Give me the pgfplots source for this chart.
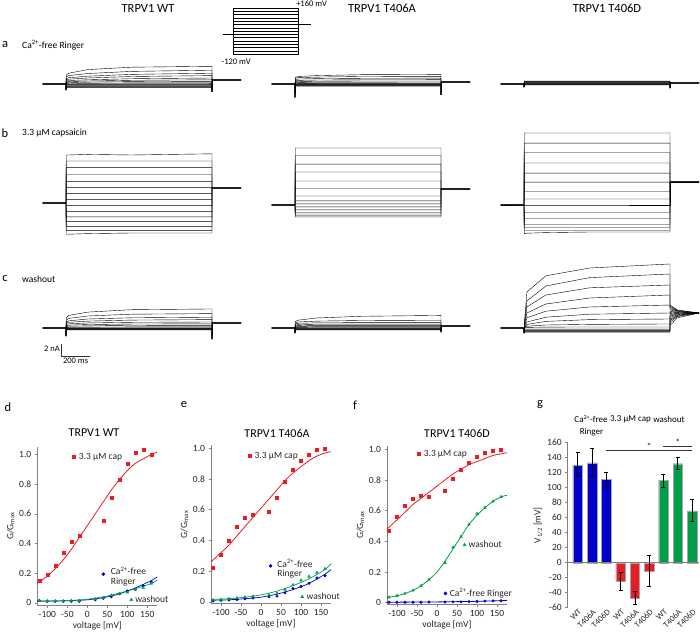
\documentclass[border=0pt]{standalone}
\usepackage{fontspec}
\setmainfont{Carlito}
\usepackage{pgfplots}
\pgfplotsset{compat=1.18}
\definecolor{cred}{RGB}{236,28,36}
\definecolor{cblue}{RGB}{0,0,205}
\definecolor{cgreen}{RGB}{0,158,72}
\definecolor{axgray}{RGB}{128,128,128}
\tikzset{lt/.style={font=\fontsize{9.5}{10}\selectfont, text=black!85, anchor=west, inner sep=1pt}}
\pgfplotsset{
  tr/.style={black, line width=0.4pt, line join=round},
  trax/.style={hide axis, x=0.146pt, y=6pt, xmin=-160, xmax=1200, ymin=-8, ymax=14, clip=false, anchor=south west},
  gax/.style={scale only axis, anchor=south west, height=158pt, width=120pt, axis lines=left,
    axis line style={-, axgray, line width=0.7pt}, tick style={axgray, line width=0.5pt},
    tick align=outside, major tick length=2.5pt,
    ticklabel style={font=\fontsize{9.5}{10}\selectfont, text=black!85},
    label style={font=\fontsize{9.5}{10}\selectfont, text=black!85},
    /pgf/number format/assume math mode=true,
    ytick={0,0.2,0.4,0.6,0.8,1}, yticklabels={0,0.2,0.4,0.6,0.8,1.0},
    xtick={-100,-50,0,50,100,150},
    xlabel={voltage [mV]}, ylabel={G/G\textsubscript{max}},
    xlabel style={yshift=3pt}, ylabel style={yshift=-2pt},
    clip=false, xmin=-125, xmax=175, ymin=-0.015},
}
% family of current traces: #1 start spike, #2 end spike, #3 tail level, #4 list S/A/B/C/E/T/M
\newcommand\trfam[4]{\foreach \qS/\qA/\qB/\qC/\qE/\qT/\qM in {#4}{\addplot[tr] coordinates {(-160,0) (0,0) (0,#1) (2,\qS) (20,\qA) (150,\qB) (450,\qC) (1000,\qE) (1000,#2) (1003,\qT) (1050,\qM) (1200,#3)};}}
\newcommand\txt[1]{\fontsize{#1}{#1}\selectfont}
\begin{document}
\begin{tikzpicture}
\useasboundingbox (0,0) rectangle (700pt,-631pt);
% ---------- titles and row labels
\node[font=\txt{12.5}] at (148pt,-8pt) {TRPV1 WT};
\node[font=\txt{12.5}] at (382pt,-8pt) {TRPV1 T406A};
\node[font=\txt{12.5}] at (607pt,-8pt) {TRPV1 T406D};
\node[font=\txt{12.5}] at (5pt,-45pt) {a};
\node[font=\txt{9.5},anchor=west,inner sep=0pt] at (22pt,-45pt) {Ca\textsuperscript{2+}-free Ringer};
\node[font=\txt{12.5}] at (5pt,-133pt) {b};
\node[font=\txt{9.5},anchor=west,inner sep=0pt] at (22pt,-133pt) {3.3 µM capsaicin};
\node[font=\txt{12.5}] at (5pt,-279pt) {c};
\node[font=\txt{9.5},anchor=west,inner sep=0pt] at (22pt,-279pt) {washout};
% ---------- voltage protocol
\begin{axis}[hide axis, x=0.065pt, y=0.164pt, xmin=-154, xmax=1200, ymin=-120, ymax=160, clip=false, anchor=south west, at={(223pt,-54pt)}]
\foreach \V in {-120,-100,-80,-60,-40,-20,0,20,40,60,80,100,120,140,160}{\addplot[tr, line width=0.35pt] coordinates {(-154,0) (0,0) (0,\V) (1000,\V) (1000,60) (1200,60)};}
\node[font=\txt{8.5},anchor=base west,inner sep=0pt] at (axis cs:970,168) {+160 mV};
\node[font=\txt{8.5},anchor=north,inner sep=0pt] at (axis cs:50,-148) {-120 mV};
\end{axis}
% ---------- row a
\begin{axis}[trax, at={(42.6pt,-132pt)}]
\trfam{-1.0}{-1.3}{0.67}{-0.6/-0.6/-0.6/-0.6/-0.6/0.67/0.67, -0.5/-0.5/-0.5/-0.5/-0.5/0.67/0.67, -0.4/-0.4/-0.4/-0.4/-0.4/0.67/0.67, -0.3/-0.3/-0.3/-0.3/-0.3/0.67/0.67, -0.2/-0.2/-0.2/-0.2/-0.2/0.67/0.67, -0.1/-0.1/-0.1/-0.1/-0.1/0.67/0.67, 0/0/0.02/0.04/0.05/0.67/0.67, 0.1/0.12/0.15/0.18/0.2/0.67/0.67, 0.2/0.25/0.32/0.4/0.45/0.67/0.67, 0.35/0.4/0.5/0.62/0.7/0.67/0.67, 0.5/0.58/0.7/0.88/1.0/0.67/0.67, 0.7/0.8/1.0/1.25/1.4/0.67/0.67, 0.9/1.05/1.3/1.6/1.8/0.67/0.67, 1.2/1.4/1.75/2.1/2.3/0.67/0.67, 1.5/1.8/2.4/2.8/2.95/0.67/0.67}
\end{axis}
\begin{axis}[trax, at={(271.6pt,-132pt)}]
\trfam{-2.2}{-1.8}{0.33}{-0.35/-0.35/-0.35/-0.35/-0.35/0.33/0.33, -0.3/-0.3/-0.3/-0.3/-0.3/0.33/0.33, -0.25/-0.25/-0.25/-0.25/-0.25/0.33/0.33, -0.2/-0.2/-0.2/-0.2/-0.2/0.33/0.33, -0.15/-0.15/-0.15/-0.15/-0.15/0.33/0.33, -0.1/-0.1/-0.1/-0.1/-0.1/0.33/0.33, -0.03/-0.03/-0.02/-0.02/-0.02/0.33/0.33, 0.04/0.05/0.06/0.06/0.06/0.33/0.33, 0.12/0.14/0.16/0.16/0.17/0.33/0.33, 0.25/0.27/0.3/0.32/0.33/0.33/0.33, 0.38/0.42/0.46/0.5/0.5/0.33/0.33, 0.55/0.6/0.66/0.7/0.72/0.33/0.33, 0.75/0.82/0.9/0.95/0.98/0.33/0.33, 0.95/1.05/1.15/1.25/1.28/0.33/0.33, 1.1/1.25/1.4/1.55/1.6/0.33/0.33}
\end{axis}
\begin{axis}[trax, at={(500.6pt,-132pt)}]
\trfam{-0.5}{-0.67}{0.17}{-0.17/-0.17/-0.17/-0.17/-0.17/0.17/0.17, -0.12/-0.12/-0.12/-0.12/-0.12/0.17/0.17, -0.07/-0.07/-0.07/-0.07/-0.07/0.17/0.17, -0.03/-0.03/-0.03/-0.03/-0.03/0.17/0.17, 0/0/0/0/0/0.17/0.17, 0.04/0.04/0.04/0.04/0.04/0.17/0.17, 0.08/0.08/0.08/0.08/0.08/0.17/0.17, 0.12/0.12/0.12/0.12/0.12/0.17/0.17, 0.16/0.16/0.16/0.16/0.16/0.17/0.17, 0.2/0.2/0.2/0.2/0.2/0.17/0.17, 0.25/0.25/0.25/0.25/0.25/0.17/0.17, 0.3/0.3/0.3/0.3/0.3/0.17/0.17, 0.36/0.36/0.36/0.36/0.36/0.17/0.17, 0.43/0.43/0.43/0.43/0.43/0.17/0.17, 0.5/0.5/0.5/0.5/0.5/0.17/0.17}
\end{axis}
% ---------- row b
\begin{axis}[trax, at={(42.6pt,-251pt)}]
\trfam{0}{2.5}{2.5}{-5.2/-5.2/-5.1/-5.0/-5.0/2.5/2.5, -4.6/-4.6/-4.6/-4.6/-4.6/2.5/2.5, -3.9/-3.9/-3.9/-3.9/-3.9/2.5/2.5, -3.1/-3.1/-3.1/-3.1/-3.1/2.5/2.5, -2.3/-2.3/-2.3/-2.3/-2.3/2.5/2.5, -1.4/-1.4/-1.4/-1.4/-1.4/2.5/2.5, -0.4/-0.4/-0.4/-0.4/-0.4/2.5/2.5, 0.6/0.6/0.6/0.6/0.6/2.5/2.5, 1.6/1.6/1.6/1.6/1.6/2.5/2.5, 2.6/2.6/2.6/2.6/2.6/2.5/2.5, 3.6/3.6/3.6/3.6/3.6/2.5/2.5, 4.7/4.7/4.7/4.7/4.7/2.5/2.5, 5.9/5.9/5.9/5.9/5.9/2.5/2.5, 7.0/7.0/7.0/7.0/7.0/2.5/2.5, 8.0/8.0/8.1/8.0/8.2/2.5/2.5}
\end{axis}
\begin{axis}[trax, at={(271.6pt,-253pt)}]
\trfam{0}{2.67}{2.67}{-2.0/-2.0/-2.0/-2.0/-2.0/2.67/2.67, -1.8/-1.8/-1.8/-1.8/-1.8/2.67/2.67, -1.5/-1.5/-1.5/-1.5/-1.5/2.67/2.67, -1.2/-1.2/-1.2/-1.2/-1.2/2.67/2.67, -0.8/-0.8/-0.8/-0.8/-0.8/2.67/2.67, -0.3/-0.3/-0.3/-0.3/-0.3/2.67/2.67, 0.2/0.2/0.2/0.2/0.2/2.67/2.67, 0.7/0.7/0.7/0.7/0.7/2.67/2.67, 1.5/1.5/1.5/1.5/1.5/2.67/2.67, 2.8/2.8/2.8/2.8/2.8/2.67/2.67, 4.0/4.0/4.0/4.0/4.0/2.67/2.67, 5.5/5.5/5.5/5.5/5.5/2.67/2.67, 6.8/6.8/6.8/6.8/6.8/2.67/2.67, 8.2/8.2/8.2/8.2/8.2/2.67/2.67, 9.5/9.5/9.5/9.5/9.5/2.67/2.67}
\end{axis}
\begin{axis}[trax, at={(500.6pt,-253pt)}]
\trfam{0}{3.83}{3.83}{-4.8/-4.7/-4.6/-4.5/-4.5/3.83/3.83, -4.2/-4.2/-4.2/-4.2/-4.2/3.83/3.83, -3.7/-3.7/-3.7/-3.7/-3.7/3.83/3.83, -3.2/-3.2/-3.2/-3.2/-3.2/3.83/3.83, -2.2/-2.2/-2.2/-2.2/-2.2/3.83/3.83, -1.2/-1.2/-1.2/-1.2/-1.2/3.83/3.83, 0/0/0/0/0/3.83/3.83, 1.0/1.0/1.0/1.0/1.0/3.83/3.83, 2.3/2.3/2.3/2.3/2.3/3.83/3.83, 3.8/3.8/3.8/3.8/3.8/3.83/3.83, 5.3/5.3/5.3/5.3/5.3/3.83/3.83, 7.0/7.0/7.0/7.0/7.0/3.83/3.83, 8.7/8.7/8.7/8.7/8.7/3.83/3.83, 10.3/10.3/10.3/10.3/10.3/3.83/3.83, 12.0/12.0/12.0/12.0/12.0/3.83/3.83}
\end{axis}
% ---------- row c
\begin{axis}[trax, at={(42.6pt,-376pt)}]
\trfam{-1.33}{-1.83}{0.83}{-0.33/-0.33/-0.33/-0.33/-0.33/0.83/0.83, -0.28/-0.28/-0.28/-0.28/-0.28/0.83/0.83, -0.22/-0.22/-0.22/-0.22/-0.22/0.83/0.83, -0.17/-0.17/-0.17/-0.17/-0.17/0.83/0.83, -0.1/-0.1/-0.1/-0.1/-0.1/0.83/0.83, -0.05/-0.05/-0.05/-0.05/-0.05/0.83/0.83, 0.02/0.02/0.02/0.02/0.02/0.83/0.83, 0.1/0.12/0.15/0.18/0.2/0.83/0.83, 0.25/0.3/0.36/0.42/0.45/0.83/0.83, 0.4/0.48/0.58/0.66/0.7/0.83/0.83, 0.6/0.7/0.85/0.95/1.0/0.83/0.83, 0.8/0.95/1.15/1.32/1.4/0.83/0.83, 1.0/1.2/1.5/1.7/1.8/0.83/0.83, 1.3/1.6/2.0/2.3/2.4/0.83/0.83, 1.67/2.1/2.65/3.05/3.17/0.83/0.83}
\draw[black!80, line width=0.5pt] (axis cs:-34,-2.67) -- (axis cs:-34,-4.67) -- (axis cs:166,-4.67);
\node[font=\txt{8.5},anchor=east,inner sep=1pt] at (axis cs:-34,-3.5) {2 nA};
\node[font=\txt{8.5},anchor=north,inner sep=1.5pt] at (axis cs:66,-4.67) {200 ms};
\end{axis}
\begin{axis}[trax, at={(271.6pt,-376pt)}]
\trfam{-0.83}{-0.67}{0.33}{-0.33/-0.33/-0.33/-0.33/-0.33/0.33/0.33, -0.28/-0.28/-0.28/-0.28/-0.28/0.33/0.33, -0.22/-0.22/-0.22/-0.22/-0.22/0.33/0.33, -0.17/-0.17/-0.17/-0.17/-0.17/0.33/0.33, -0.12/-0.12/-0.12/-0.12/-0.12/0.33/0.33, -0.06/-0.06/-0.06/-0.06/-0.06/0.33/0.33, 0/0/0/0/0/0.33/0.33, 0.06/0.07/0.08/0.08/0.08/0.33/0.33, 0.14/0.16/0.18/0.18/0.18/0.33/0.33, 0.24/0.27/0.3/0.3/0.3/0.33/0.33, 0.36/0.4/0.45/0.45/0.45/0.33/0.33, 0.5/0.57/0.63/0.65/0.65/0.33/0.33, 0.68/0.78/0.86/0.9/0.9/0.33/0.33, 0.85/1.0/1.15/1.25/1.3/0.33/0.33, 1.05/1.3/1.67/1.95/2.1/0.33/0.33}
\end{axis}
\begin{axis}[trax, at={(500.6pt,-376pt)}]
\trfam{-0.83}{\qT}{2.5}{-0.7/-0.7/-0.7/-0.7/-0.7/0.5/1.7, -0.6/-0.6/-0.6/-0.6/-0.6/1.0/1.9, -0.5/-0.5/-0.5/-0.5/-0.5/1.3/2.0, -0.4/-0.4/-0.4/-0.4/-0.4/1.5/2.1, -0.3/-0.3/-0.3/-0.3/-0.3/1.8/2.2, -0.17/-0.17/-0.17/-0.17/-0.17/2.0/2.3, 0.05/0.1/0.15/0.17/0.17/2.2/2.4, 0/0.3/0.5/0.6/0.67/2.4/2.45, 0/0.6/1.1/1.4/1.5/2.6/2.55, 0.05/1.0/1.8/2.3/2.5/2.8/2.6, 0.1/1.7/2.8/3.5/3.83/3.0/2.7, 0.2/2.5/4.0/5.0/5.5/3.2/2.8, 0.3/3.5/5.5/6.7/7.17/3.4/2.85, 0.4/4.5/7.0/8.4/9.0/3.6/2.95, 0.5/6.0/8.7/10.0/10.67/3.8/3.0}
\end{axis}
% ---------- bottom panel letters and titles
\node[font=\txt{12.5}] at (8pt,-407pt) {d};
\node[font=\txt{12.5}] at (184pt,-405pt) {e};
\node[font=\txt{12.5}] at (355pt,-405pt) {f};
\node[font=\txt{12.5}] at (540pt,-405pt) {g};
\node[font=\txt{12}] at (94pt,-433pt) {TRPV1 WT};
\node[font=\txt{12}] at (277pt,-433pt) {TRPV1 T406A};
\node[font=\txt{12}] at (457pt,-433pt) {TRPV1 T406D};
% ---------- panel d
\begin{axis}[gax, at={(37.3pt,-605pt)}, ymax=1.05]
\addplot[cred, line width=0.8pt, smooth] coordinates {(-125,0.13) (-100,0.18) (-80,0.23) (-60,0.29) (-40,0.36) (-20,0.44) (0,0.52) (20,0.6) (40,0.68) (60,0.76) (80,0.83) (100,0.89) (120,0.94) (140,0.97) (160,1.0) (175,1.015)};
\addplot[only marks, mark=square*, mark size=1.5pt, cred] coordinates {(-120,0.15) (-100,0.19) (-80,0.25) (-60,0.34) (-40,0.41) (-20,0.45) (40,0.55) (60,0.71) (80,0.83) (100,0.94) (120,1.01) (140,1.03) (160,1.0)};
\addplot[cblue, line width=0.7pt, smooth] coordinates {(-125,0.012) (-80,0.012) (-40,0.015) (0,0.02) (40,0.035) (80,0.06) (120,0.1) (160,0.15) (175,0.175)};
\addplot[cgreen, line width=0.7pt, smooth] coordinates {(-125,0.01) (-80,0.012) (-40,0.016) (0,0.024) (40,0.04) (80,0.065) (120,0.095) (160,0.13) (175,0.155)};
\addplot[only marks, mark=*, mark size=1.3pt, cblue] coordinates {(-120,0.015) (-100,0.01) (-80,0.01) (-60,0.01) (-40,0.01) (-20,0.01) (20,0.02) (40,0.03) (60,0.04) (80,0.06) (100,0.08) (120,0.09) (140,0.115) (160,0.14)};
\addplot[only marks, mark=triangle*, mark size=1.6pt, cgreen] coordinates {(-120,0.015) (-100,0.012) (-80,0.012) (-60,0.012) (-40,0.015) (-20,0.015) (20,0.025) (40,0.035) (60,0.05) (80,0.06) (100,0.07) (120,0.09) (140,0.1) (160,0.13)};
\addplot[only marks, mark=square*, mark size=1.6pt, cred] coordinates {(-34,0.982)};
\node[lt] at (axis cs:-24,0.982) {3.3 µM cap};
\addplot[only marks, mark=*, mark size=1.6pt, cblue] coordinates {(40,0.193)};
\node[lt] at (axis cs:56,0.215) {Ca\textsuperscript{2+}-free};
\node[lt] at (axis cs:56,0.137) {Ringer};
\addplot[only marks, mark=triangle*, mark size=1.8pt, cgreen] coordinates {(110,0.02)};
\node[lt] at (axis cs:117,0.025) {washout};
\end{axis}
% ---------- panel e
\begin{axis}[gax, at={(211pt,-603.3pt)}, ymax=1.02, ymin=-0.01]
\addplot[cred, line width=0.8pt, smooth] coordinates {(-125,0.26) (-100,0.32) (-80,0.37) (-60,0.43) (-40,0.49) (-20,0.55) (0,0.61) (20,0.67) (40,0.73) (60,0.79) (80,0.84) (100,0.88) (120,0.92) (140,0.95) (160,0.97) (175,0.978)};
\addplot[only marks, mark=square*, mark size=1.5pt, cred] coordinates {(-120,0.22) (-100,0.31) (-80,0.4) (-60,0.49) (-40,0.55) (-20,0.57) (20,0.59) (40,0.68) (60,0.78) (80,0.86) (100,0.92) (120,0.96) (140,0.99) (160,1.0)};
\addplot[cblue, line width=0.7pt, smooth] coordinates {(-125,0.01) (-80,0.013) (-40,0.02) (0,0.03) (40,0.05) (80,0.08) (120,0.12) (160,0.18) (175,0.21)};
\addplot[cgreen, line width=0.7pt, smooth] coordinates {(-125,0.015) (-80,0.02) (-40,0.03) (0,0.045) (40,0.07) (80,0.105) (120,0.15) (160,0.21) (175,0.25)};
\addplot[only marks, mark=*, mark size=1.3pt, cblue] coordinates {(-120,0.005) (-100,0.01) (-80,0.012) (-60,0.015) (-40,0.02) (-20,0.025) (20,0.032) (40,0.037) (60,0.058) (80,0.087) (100,0.1) (120,0.12) (140,0.155) (160,0.17)};
\addplot[only marks, mark=triangle*, mark size=1.6pt, cgreen] coordinates {(-120,0.012) (-100,0.015) (-80,0.02) (-60,0.025) (-40,0.03) (-20,0.035) (20,0.045) (40,0.055) (60,0.08) (80,0.11) (100,0.14) (120,0.165) (140,0.19) (160,0.215)};
\addplot[only marks, mark=square*, mark size=1.6pt, cred] coordinates {(-29,0.952)};
\node[lt] at (axis cs:-19,0.952) {3.3 µM cap};
\addplot[only marks, mark=*, mark size=1.6pt, cblue] coordinates {(24,0.234)};
\node[lt] at (axis cs:38,0.25) {Ca\textsuperscript{2+}-free};
\node[lt] at (axis cs:38,0.18) {Ringer};
\addplot[only marks, mark=triangle*, mark size=1.8pt, cgreen] coordinates {(103,0.032)};
\node[lt] at (axis cs:111,0.035) {washout};
\end{axis}
% ---------- panel f
\begin{axis}[gax, at={(387pt,-604.2pt)}, ymax=1.02, ymin=-0.01]
\addplot[cred, line width=0.8pt, smooth] coordinates {(-125,0.48) (-100,0.54) (-80,0.59) (-60,0.64) (-40,0.68) (-20,0.72) (0,0.76) (20,0.8) (40,0.84) (60,0.87) (80,0.9) (100,0.92) (120,0.94) (140,0.96) (160,0.97) (175,0.978)};
\addplot[only marks, mark=square*, mark size=1.5pt, cred] coordinates {(-120,0.47) (-100,0.56) (-80,0.63) (-60,0.68) (-40,0.7) (-20,0.69) (20,0.73) (40,0.81) (60,0.87) (80,0.91) (100,0.95) (120,0.98) (140,0.99) (160,1.0)};
\addplot[cgreen, line width=0.8pt, smooth] coordinates {(-125,0.033) (-100,0.045) (-80,0.06) (-60,0.08) (-40,0.11) (-20,0.15) (0,0.2) (20,0.27) (40,0.35) (60,0.43) (80,0.51) (100,0.57) (120,0.62) (140,0.66) (160,0.69) (175,0.7)};
\addplot[only marks, mark=triangle*, mark size=1.6pt, cgreen] coordinates {(-120,0.035) (-100,0.045) (-80,0.06) (-60,0.08) (-40,0.11) (-20,0.15) (20,0.26) (40,0.36) (60,0.43) (80,0.51) (100,0.58) (120,0.62) (140,0.66) (160,0.69)};
\addplot[cblue, line width=0.8pt, smooth] coordinates {(-125,0.003) (0,0.005) (100,0.009) (175,0.014)};
\addplot[only marks, mark=*, mark size=1.3pt, cblue] coordinates {(-120,0.003) (-100,0.003) (-80,0.003) (-60,0.003) (-40,0.003) (-20,0.004) (20,0.004) (40,0.005) (60,0.005) (80,0.007) (100,0.008) (120,0.01) (140,0.012) (160,0.013)};
\addplot[only marks, mark=square*, mark size=1.6pt, cred] coordinates {(-45,0.97)};
\node[lt] at (axis cs:-36,0.97) {3.3 µM cap};
\addplot[only marks, mark=triangle*, mark size=1.8pt, cgreen] coordinates {(69,0.376)};
\node[lt] at (axis cs:76,0.38) {washout};
\addplot[only marks, mark=*, mark size=1.6pt, cblue] coordinates {(21,0.06)};
\node[lt] at (axis cs:29,0.06) {Ca\textsuperscript{2+}-free Ringer};
\end{axis}
% ---------- panel g
\node[font=\txt{9}] at (591pt,-419pt) {Ca\textsuperscript{2+}-free};
\node[font=\txt{9}] at (591.5pt,-432pt) {Ringer};
\node[font=\txt{9}] at (630.5pt,-419pt) {3.3 µM cap};
\node[font=\txt{9}] at (669pt,-419pt) {washout};
\begin{axis}[scale only axis, anchor=south west, at={(567.7pt,-607.7pt)}, width=130.8pt, height=165pt,
  xmin=-0.7, xmax=8.45, ymin=-60, ymax=160, axis lines=left,
  axis line style={-, axgray, line width=0.7pt}, x axis line style={draw=none},
  tick style={axgray, line width=0.5pt}, xtick style={draw=none},
  tick align=outside, major tick length=2.5pt,
  ytick={-60,-40,-20,0,20,40,60,80,100,120,140,160},
  xtick={0,1,2,3,4,5,6,7,8},
  xticklabels={WT,T406A,T406D,WT,T406A,T406D,WT,T406A,T406D},
  xticklabel style={rotate=45, anchor=north east, inner sep=0.5pt, font=\txt{8.5}, text=black!85, yshift=1.5pt, xshift=2pt},
  yticklabel style={font=\txt{9.5}, text=black!85},
  /pgf/number format/assume math mode=true,
  ylabel={V\textsubscript{1/2} [mV]}, ylabel style={font=\txt{9.5}, text=black!85, yshift=-2pt},
  clip=false]
\addplot[ybar, bar shift=0pt, bar width=9.5pt, fill=cblue, draw=black!35, line width=0.4pt,
  error bars/.cd, y dir=both, y explicit, error bar style={black, line width=0.6pt}, error mark options={rotate=90, mark size=2pt, black, line width=0.6pt}]
  coordinates {(0,130) += (0,17) -= (0,15) (1,133) += (0,19) -= (0,18) (2,111) += (0,10) -= (0,10)};
\addplot[ybar, bar shift=0pt, bar width=9.5pt, fill=cred, draw=black!35, line width=0.4pt,
  error bars/.cd, y dir=both, y explicit, error bar style={black, line width=0.6pt}, error mark options={rotate=90, mark size=2pt, black, line width=0.6pt}]
  coordinates {(3,-25) += (0,12) -= (0,12) (4,-47) += (0,9) -= (0,9) (5,-11) += (0,21) -= (0,20)};
\addplot[ybar, bar shift=0pt, bar width=9.5pt, fill=cgreen, draw=black!35, line width=0.4pt,
  error bars/.cd, y dir=both, y explicit, error bar style={black, line width=0.6pt}, error mark options={rotate=90, mark size=2pt, black, line width=0.6pt}]
  coordinates {(6,110) += (0,8) -= (0,9) (7,132) += (0,9) -= (0,7) (8,69) += (0,15) -= (0,14)};
\draw[axgray, line width=0.7pt] (axis cs:-0.7,0) -- (axis cs:8.45,0);
\draw[black!80, line width=0.6pt] (axis cs:2,149.3) -- (axis cs:8,149.3);
\draw[black!80, line width=0.6pt] (axis cs:6,154.7) -- (axis cs:8,154.7);
\node[font=\txt{9},inner sep=0pt] at (axis cs:5,155) {*};
\node[font=\txt{9},inner sep=0pt] at (axis cs:7,160) {*};
\end{axis}
\end{tikzpicture}
\end{document}
